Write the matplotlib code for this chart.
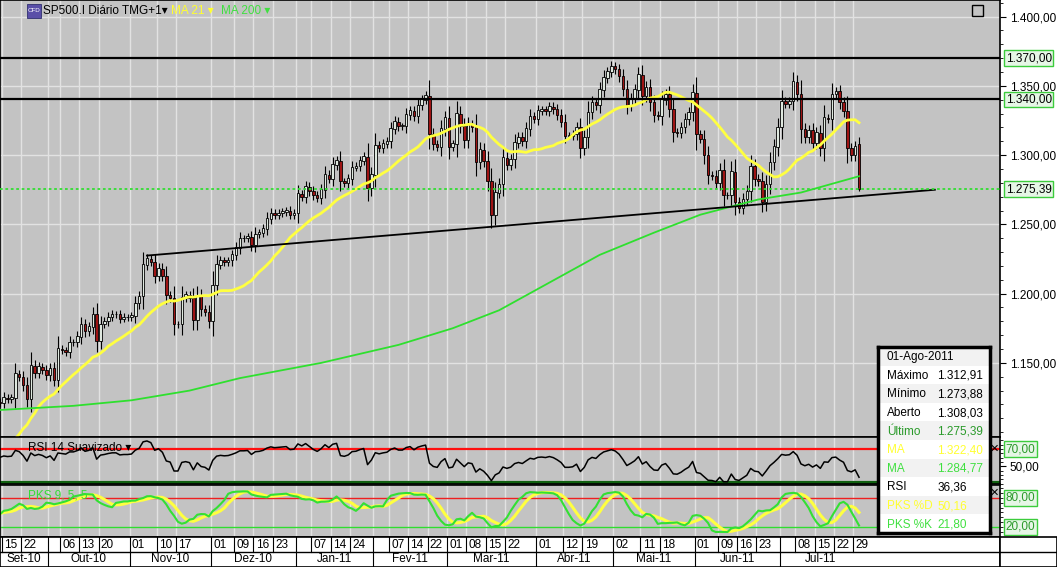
import numpy as np
import pandas as pd
import matplotlib
matplotlib.use("Agg")
import matplotlib.pyplot as plt
from matplotlib.patches import Rectangle

plt.rcParams["font.family"] = ["Liberation Sans", "DejaVu Sans"]
plt.rcParams["font.size"] = 8

# ---- data ----
holidays = ["2010-11-25", "2010-12-24", "2011-01-17", "2011-02-21",
            "2011-04-22", "2011-05-30", "2011-07-04"]
# closes before the visible window, only used to warm up the 21-day MA
warmup_closes = [1079, 1092, 1094, 1075, 1071, 1067, 1055, 1064, 1048, 1064,
                 1049, 1080, 1090, 1104, 1105, 1091, 1098, 1104, 1110, 1110]
closes = [
    # Sep-10 (13..30)
    1122, 1121, 1125, 1124, 1125, 1142, 1140, 1134, 1124, 1148, 1143, 1147, 1145, 1141,
    # Oct-10
    1146, 1138, 1160, 1159, 1158, 1165, 1165, 1169, 1178, 1173, 1176, 1185, 1166,
    1178, 1180, 1183, 1185, 1185, 1182, 1183, 1183,
    # Nov-10
    1184, 1193, 1198, 1221, 1225, 1223, 1213, 1218, 1213, 1199, 1197, 1178, 1178,
    1197, 1199, 1197, 1181, 1198, 1189, 1187, 1180,
    # Dez-10
    1206, 1221, 1224, 1223, 1224, 1228, 1233, 1240, 1240, 1241, 1235, 1243, 1244,
    1247, 1254, 1258, 1257, 1258, 1259, 1260, 1257, 1258,
    # Jan-11
    1272, 1270, 1277, 1274, 1271, 1269, 1275, 1286, 1283, 1293, 1296, 1281, 1280,
    1283, 1291, 1292, 1296, 1299, 1276, 1286,
    # Fev-11
    1307, 1305, 1308, 1310, 1319, 1324, 1321, 1321, 1329, 1332, 1328, 1336, 1340,
    1343, 1315, 1308, 1306, 1319, 1327,
    # Mar-11
    1306, 1308, 1330, 1321, 1311, 1322, 1320, 1295, 1304, 1296, 1281, 1257, 1273,
    1279, 1298, 1293, 1297, 1309, 1313, 1310, 1319, 1328, 1326,
    # Abr-11
    1332, 1333, 1332, 1335, 1333, 1329, 1324, 1314, 1314, 1315, 1320, 1305, 1313,
    1331, 1338, 1336, 1347, 1356, 1360, 1364,
    # Mai-11
    1362, 1357, 1348, 1336, 1341, 1347, 1358, 1343, 1349, 1338, 1329, 1328, 1340,
    1344, 1333, 1317, 1316, 1320, 1326, 1331, 1345,
    # Jun-11
    1315, 1312, 1300, 1286, 1285, 1280, 1289, 1271, 1271, 1288, 1266, 1262, 1268,
    1274, 1292, 1283, 1281, 1266, 1279, 1295, 1306, 1320,
    # Jul-11
    1339, 1337, 1339, 1353, 1344, 1319, 1313, 1318, 1309, 1316, 1305, 1327, 1326,
    1344, 1346, 1338, 1332, 1305, 1300, 1306,
    # Ago-11
    1275.39,
]
last_ohl = (1308.03, 1312.91, 1273.88)

ma200_idx = [1, 20, 35, 50, 63, 84, 104, 118, 130, 143, 156, 170, 182, 197, 208, 223]
ma200_val = [1116, 1119, 1123, 1130, 1139, 1150, 1163, 1175, 1188, 1208, 1228, 1244,
             1257, 1268, 1273, 1284.77]

levels = [1370, 1340.5]
trend_idx = [39, 242.6]
trend_val = [1227.5, 1275]
last_price = 1275.39

label_days = ["2010-09-15", "2010-09-22", "2010-10-06", "2010-10-13", "2010-10-20",
              "2010-11-01", "2010-11-10", "2010-11-17", "2010-12-01", "2010-12-09",
              "2010-12-16", "2010-12-23", "2011-01-07", "2011-01-14", "2011-01-24",
              "2011-02-07", "2011-02-14", "2011-02-22", "2011-03-01", "2011-03-08",
              "2011-03-15", "2011-03-22", "2011-04-01", "2011-04-12", "2011-04-19",
              "2011-05-02", "2011-05-11", "2011-05-18", "2011-06-01", "2011-06-09",
              "2011-06-16", "2011-06-23", "2011-07-08", "2011-07-15", "2011-07-22",
              "2011-07-29"]
month_names = ["Set-10", "Out-10", "Nov-10", "Dez-10", "Jan-11", "Fev-11", "Mar-11",
               "Abr-11", "Mai-11", "Jun-11", "Jul-11"]

info_rows = [("01-Ago-2011", "", "black"), ("Máximo", "1.312,91", "black"),
             ("Mínimo", "1.273,88", "black"), ("Aberto", "1.308,03", "black"),
             ("Último", "1.275,39", "#2a9a2a"), ("MA", "1.322,40", "#ffff30"),
             ("MA", "1.284,77", "#40e040"), ("RSI", "36,36", "black"),
             ("PKS %D", "50,16", "#ffff30"), ("PKS %K", "21,80", "#40e040")]

# ---- series ----
dates = pd.bdate_range("2010-09-13", "2011-08-01")
dates = dates[~dates.isin(pd.to_datetime(holidays))]
c = pd.Series(closes[:len(dates)], index=dates[:len(closes)])
dates = c.index
n = len(c)
x = np.arange(n)
o = c.shift(1).fillna(c.iloc[0]).values.astype(float)
cv = c.values.astype(float)
wick = 0.3 * np.abs(cv - o) + 2.5
h = np.maximum(o, cv) + wick
l = np.minimum(o, cv) - wick
o[-1], h[-1], l[-1] = last_ohl

allc = pd.Series(list(warmup_closes) + list(cv))
ma21 = allc.rolling(21, min_periods=1).mean().values[len(warmup_closes):]

# Wilder RSI, seeded so the start sits near the level shown
d = np.diff(cv, prepend=cv[0])
ag, al = 5.0, 3.2
rsi = np.empty(n)
for i in range(n):
    ag = (ag * 13 + max(d[i], 0)) / 14
    al = (al * 13 + max(-d[i], 0)) / 14
    rsi[i] = 100 - 100 / (1 + ag / al)

hs, ls = pd.Series(h, index=dates), pd.Series(l, index=dates)
rawk = 100 * (c - ls.rolling(9, min_periods=1).min()) / (
    hs.rolling(9, min_periods=1).max() - ls.rolling(9, min_periods=1).min())
pk = rawk.rolling(5, min_periods=1).mean()
pd_ = pk.rolling(5, min_periods=1).mean()

def pos(d):
    return int(dates.searchsorted(pd.Timestamp(d)))

lab_x = [pos(d) for d in label_days]
month_x = [pos(d) for d in pd.date_range("2010-10-01", "2011-07-01", freq="MS")]
divs = sorted(set(lab_x + month_x))

# ---- layout ----
W, H = 1057, 567
fig = plt.figure(figsize=(W / 100, H / 100), dpi=100)
fig.patch.set_facecolor("white")
XL = (1.03, 1.03 + 1000 / 3.87)
BG = "#c3c3c3"

def px_ax(x0, y0, w, hh):
    return fig.add_axes([x0 / W, 1 - (y0 + hh) / H, w / W, hh / H])

axp = px_ax(0, 0, 1000, 437)
axr = px_ax(0, 437, 1000, 47)
axs = px_ax(0, 485, 1000, 52)
axd = px_ax(0, 537, 1000, 30)

for ax in (axp, axr, axs):
    ax.set_facecolor(BG)
    ax.set_xlim(*XL)
    ax.set_xticks([])
    ax.yaxis.tick_right()
    ax.tick_params(axis="y", direction="out", length=4, labelsize=8.5, pad=3)
    for dv in divs:
        ax.axvline(dv - 0.5, color="#e2e2e2", lw=1, zorder=0)
    for s in ax.spines.values():
        s.set_color("black")
        s.set_linewidth(1.2)

fmt = lambda v: f"{v:,.2f}".replace(",", "X").replace(".", ",").replace("X", ".")

# price panel
axp.set_ylim(1096.5, 1412)
yt = [1150, 1200, 1250, 1300, 1350, 1400]
axp.set_yticks(yt)
axp.set_yticklabels([fmt(v) for v in yt])
axp.set_yticks(np.arange(1100, 1411, 10), minor=True)
axp.tick_params(axis="y", which="minor", direction="out", length=2)
for v in yt:
    axp.axhline(v, color="#e2e2e2", lw=1, zorder=0)
upm = cv >= o
axp.vlines(x, l, h, color="black", lw=0.8, zorder=2)
axp.bar(x[upm], (cv - o)[upm] + 0.4, bottom=o[upm], width=0.65, color="#dfe8df",
        edgecolor="black", lw=0.6, zorder=3)
axp.bar(x[~upm], (cv - o)[~upm], bottom=o[~upm], width=0.65, color="#9e1414",
        edgecolor="black", lw=0.6, zorder=3)
axp.plot(x, ma21, color="#ffff40", lw=2, zorder=4)
axp.plot(ma200_idx, ma200_val, color="#2ee02e", lw=1.3, zorder=4)
for v in levels:
    axp.axhline(v, color="black", lw=1.6, zorder=5)
axp.plot(trend_idx, trend_val, color="black", lw=1.3, zorder=5)
axp.axhline(last_price, color="#33dd33", lw=1.3, ls=(0, (1.5, 1.5)), zorder=5)

def box_label(ax, y, text, tc="black"):
    ax.annotate(text, xy=(1, y), xycoords=("axes fraction", "data"),
                xytext=(4, 0), textcoords="offset points", va="center", ha="left",
                fontsize=8.5, color=tc, zorder=10, annotation_clip=False,
                bbox=dict(boxstyle="square,pad=0.15", fc="#e6f6e6", ec="#3ccc3c", lw=1))

box_label(axp, 1370, fmt(1370))
box_label(axp, 1340, fmt(1340))
box_label(axp, last_price, fmt(last_price))

# RSI panel
axr.set_ylim(29.5, 84)
axr.set_yticks([50])
axr.set_yticklabels(["50,00"])
axr.set_yticks(np.arange(30, 84, 5), minor=True)
axr.tick_params(axis="y", which="minor", direction="out", length=2)
axr.axhline(70, color="#ff1010", lw=1.6)
axr.axhline(30.5, color="#106010", lw=3)
axr.plot(x, rsi, color="black", lw=1.1)
box_label(axr, 70, "70,00", "#2a9a2a")
axr.text(28 / 1000, 0.77, "RSI 14 Suavizado ▾", transform=axr.transAxes, fontsize=8.5,
         va="center")
axr.text(994 / 1000, 70, "✕", transform=axr.get_yaxis_transform(), fontsize=8,
         ha="center", va="center", fontweight="bold")

# stochastic panel
axs.set_ylim(-1, 107)
axs.set_yticks([])
axs.set_yticks(np.arange(0, 107, 10), minor=True)
axs.tick_params(axis="y", which="minor", direction="out", length=2)
axs.axhline(80, color="#ee2020", lw=1)
axs.axhline(20, color="#30dd30", lw=1)
axs.plot(x, pd_.values, color="#ffff40", lw=2.2)
axs.plot(x, pk.values, color="#33e033", lw=1.5)
box_label(axs, 80, "80,00", "#2a9a2a")
box_label(axs, 20, "20,00", "#2a9a2a")
axs.text(28 / 1000, 0.8, "PKS 9, 5, 5", transform=axs.transAxes, fontsize=8.5,
         color="#33dd33", va="center")
axs.text(994 / 1000, 90, "✕", transform=axs.get_yaxis_transform(), fontsize=8,
         ha="center", va="center", fontweight="bold")

# date axis
axd.set_xlim(*XL)
axd.set_ylim(0, 2)
axd.axis("off")
axd.add_patch(Rectangle((0, 0), 1, 1, transform=axd.transAxes, fc="white",
                        ec="black", lw=1.2, clip_on=False))
axd.axhline(1, color="black", lw=1)
for dv in divs:
    axd.plot([dv - 0.5, dv - 0.5], [1, 2], color="black", lw=0.8)
for dv, s in zip(lab_x, label_days):
    axd.text(dv - 0.5 + 0.6, 1.5, s[-2:], ha="left", va="center", fontsize=8.5)
mb = [XL[0]] + [m - 0.5 for m in month_x] + [n - 0.5]
for i, name in enumerate(month_names):
    if i > 0:
        axd.plot([mb[i], mb[i]], [0, 1], color="black", lw=0.8)
    axd.text((mb[i] + mb[i + 1]) / 2, 0.5, name, ha="center", va="center", fontsize=8.5)
fig.patches.append(Rectangle((1000 / W, 0), 57 / W, 30 / H, transform=fig.transFigure,
                             fc="white", ec="black", lw=1.2))
fig.lines.append(plt.Line2D([1000 / W, 1], [15 / H, 15 / H], transform=fig.transFigure,
                            color="black", lw=1))

# header
fig.patches.append(Rectangle((27 / W, 1 - 18 / H), 14 / W, 14 / H, transform=fig.transFigure,
                             fc="#5a4fa8", ec="#303070", lw=0.6))
fig.text(34 / W, 1 - 11 / H, "CFD", fontsize=4.5, color="white", ha="center", va="center")
fig.text(43 / W, 1 - 11 / H, "SP500.I Diário TMG+1▾", fontsize=8.5, va="center")
fig.text(171 / W, 1 - 11 / H, "MA 21 ▾", fontsize=8.5, va="center", color="#ffff30")
fig.text(221 / W, 1 - 11 / H, "MA 200 ▾", fontsize=8.5, va="center", color="#40e040")
fig.patches.append(Rectangle((972 / W, 1 - 16 / H), 11 / W, 11 / H, transform=fig.transFigure,
                             fc="none", ec="black", lw=1))

# info box
axi = px_ax(878, 347, 112, 186)
axi.set_xlim(0, 1)
axi.set_ylim(len(info_rows), 0)
axi.set_xticks([])
axi.set_yticks([])
for s in axi.spines.values():
    s.set_linewidth(2.5)
for i, (k, v, col) in enumerate(info_rows):
    axi.add_patch(Rectangle((0, i), 1, 1, fc="#f2f2f2" if i % 2 == 0 else "white", ec="none"))
    axi.text(0.08, i + 0.55, k, va="center", fontsize=8.5, color=col)
    axi.text(0.53, i + 0.55, v, va="center", fontsize=8.5, color=col)

fig.savefig("out.png", dpi=100)
